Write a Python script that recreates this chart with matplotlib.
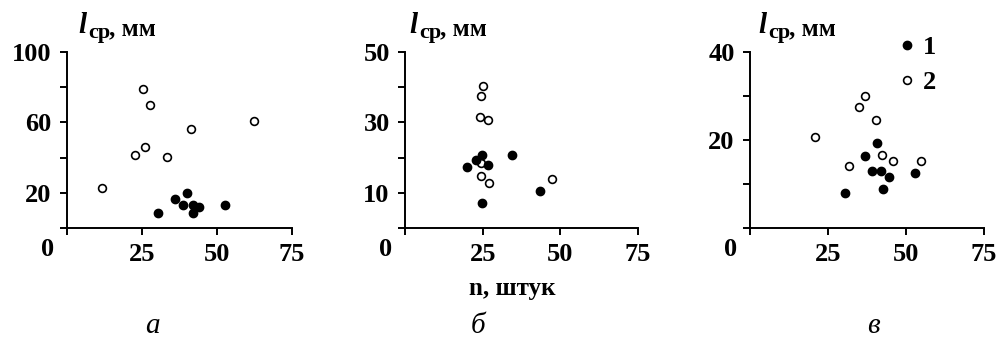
import matplotlib
import matplotlib.pyplot as plt

matplotlib.use("Agg")

# panel а
a_open_n = [25.4, 27.6, 41.2, 62.2, 22.8, 26.0, 33.4, 11.6]
a_open_l = [79.0, 69.7, 56.0, 60.6, 41.3, 46.0, 40.2, 22.9]
a_fill_n = [30.2, 36.0, 40.1, 38.6, 42.1, 44.1, 42.1, 52.7]
a_fill_l = [8.3, 16.5, 20.0, 13.1, 13.1, 11.8, 8.3, 13.1]

# panel б
b_open_n = [25.1, 24.6, 24.0, 26.8, 24.5, 24.4, 27.0, 47.4]
b_open_l = [40.2, 37.5, 31.6, 30.6, 18.5, 14.7, 12.8, 14.0]
b_fill_n = [20.1, 22.8, 24.9, 26.7, 34.5, 43.4, 24.8]
b_fill_l = [17.3, 19.4, 20.7, 17.8, 20.7, 10.4, 7.0]

# panel в
c_open_n = [20.7, 34.8, 36.8, 40.5, 31.6, 42.4, 45.8, 54.9]
c_open_l = [20.6, 27.6, 29.9, 24.5, 14.2, 16.7, 15.2, 15.3]
c_fill_n = [40.7, 36.8, 39.1, 42.1, 44.5, 42.6, 30.4, 52.8]
c_fill_l = [19.4, 16.3, 12.9, 12.9, 11.5, 8.8, 7.9, 12.5]

x_ticks = [0, 25, 50, 75]
x_labels = ["", "25", "50", "75"]

panels = [
    dict(open=(a_open_n, a_open_l), fill=(a_fill_n, a_fill_l), ymax=100,
         yticks=[0, 20, 40, 60, 80, 100], ylabels=["", "20", "", "60", "", "100"],
         letter="а", rect=[67, 52, 225, 176], lab_dx=11),
    dict(open=(b_open_n, b_open_l), fill=(b_fill_n, b_fill_l), ymax=50,
         yticks=[0, 10, 20, 30, 40, 50], ylabels=["", "10", "", "30", "", "50"],
         letter="б", rect=[405, 52, 233, 176], lab_dx=4),
    dict(open=(c_open_n, c_open_l), fill=(c_fill_n, c_fill_l), ymax=40,
         yticks=[0, 10, 20, 30, 40], ylabels=["", "", "20", "", "40"],
         letter="в", rect=[750, 52, 234, 176], lab_dx=8),
]

W, H = 1002, 345
SERIF = "Liberation Serif"

fig = plt.figure(figsize=(W / 100, H / 100), dpi=100)

for i, p in enumerate(panels):
    x0, y0, w, h = p["rect"]
    ax = fig.add_axes([x0 / W, 1 - (y0 + h) / H, w / W, h / H])
    ax.plot(*p["open"], "o", ls="none", ms=5.6, mfc="white", mec="black", mew=1.2,
            zorder=3, label="2")
    ax.plot(*p["fill"], "o", ls="none", ms=6.0, mfc="black", mec="black",
            zorder=4, label="1")
    ax.set_xlim(0, 75)
    ax.set_ylim(0, p["ymax"])
    for side in ("top", "right"):
        ax.spines[side].set_visible(False)
    for side in ("left", "bottom"):
        ax.spines[side].set_linewidth(1.4)
    ax.set_xticks(x_ticks)
    ax.set_xticklabels(x_labels)
    ax.set_yticks(p["yticks"])
    ax.set_yticklabels(p["ylabels"])
    ax.tick_params(direction="out", length=5, width=1.4, labelsize=19, pad=6)
    for lab in ax.get_xticklabels() + ax.get_yticklabels():
        lab.set_fontfamily(SERIF)
        lab.set_fontweight("bold")
    for ln in ax.lines:
        ln.set_clip_on(False)

    # corner zero
    ax.annotate("0", xy=(0, 0), xycoords="axes fraction", xytext=(-19, -22),
                textcoords="offset pixels", ha="center", va="center",
                fontsize=19, fontweight="bold", family=SERIF)
    # y label: l_ср, мм
    dx = p["lab_dx"]
    ax.annotate("l", xy=(0, 1), xycoords="axes fraction", xytext=(dx, 19),
                textcoords="offset pixels", ha="left", va="baseline",
                fontsize=21, fontweight="bold", style="italic", family=SERIF)
    ax.annotate("ср", xy=(0, 1), xycoords="axes fraction", xytext=(dx + 10, 14),
                textcoords="offset pixels", ha="left", va="baseline",
                fontsize=16, fontweight="bold", family=SERIF)
    ax.annotate(", мм", xy=(0, 1), xycoords="axes fraction", xytext=(dx + 31, 17),
                textcoords="offset pixels", ha="left", va="baseline",
                fontsize=18, fontweight="bold", family=SERIF)

    fig.text([152, 478, 873][i] / W, 1 - 326 / H, p["letter"], ha="center", va="center",
             fontsize=21, style="italic", family=SERIF)

    if i == 2:
        handles, labels = ax.get_legend_handles_labels()
        ax.legend(handles[::-1], labels[::-1], loc="upper left",
                  bbox_to_anchor=(0.58, 1.17), frameon=False, borderpad=0,
                  handlelength=0.6, handletextpad=0.3, labelspacing=0.45,
                  prop=dict(family=SERIF, weight="bold", size=19))

fig.text(512 / W, 1 - 288 / H, "n, штук", ha="center", va="center",
         fontsize=18, fontweight="bold", family=SERIF)

fig.savefig("out.png", dpi=100)
